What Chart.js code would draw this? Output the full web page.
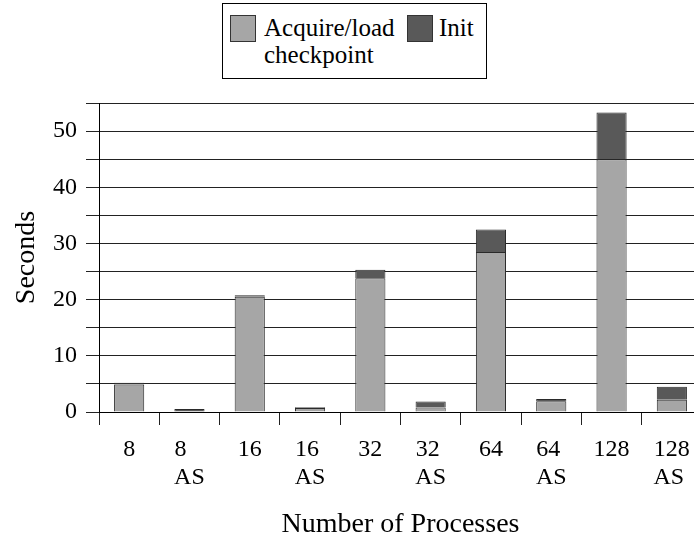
<!DOCTYPE html>
<html>
<head>
<meta charset="utf-8">
<script src="https://cdn.jsdelivr.net/npm/chart.js@4/dist/chart.umd.min.js"></script>
<style>
  html, body { margin: 0; padding: 0; background: #fff; overflow: hidden; }
  #wrap { position: relative; width: 694px; height: 541px; overflow: hidden; }
  #legend {
    position: absolute; left: 222px; top: 3px; width: 263px; height: 74px;
    border: 1px solid #000; background: #fff;
    font-family: "Liberation Serif", "Times New Roman", serif; font-size: 25px; line-height: 27px;
  }
  #legend .sw { position: absolute; width: 24px; height: 25px; border: 1px solid #333; }
  #legend .txt { position: absolute; white-space: nowrap; color: #000; }
</style>
</head>
<body>
<div id="wrap">
  <canvas id="chart" width="702" height="541"></canvas>
  <div id="legend">
    <div class="sw" style="left:7px; top:11px; background:#a6a6a6;"></div>
    <div class="txt" style="left:41px; top:10px;">Acquire/load<br>checkpoint</div>
    <div class="sw" style="left:184px; top:11px; background:#595959;"></div>
    <div class="txt" style="left:216px; top:10px;">Init</div>
  </div>
</div>
<script>
// Categories (number of processes, AS = variant); lines padded so they sit left-aligned
const categories = [
  ['8', ''], ['8   ', 'AS'], ['16', ''], ['16 ', 'AS'], ['32', ''],
  ['32 ', 'AS'], ['64', ''], ['64 ', 'AS'], ['128', ''], ['128', 'AS ']
];

// Seconds per phase
const acquireLoad = [4.9, 0.1, 20.5, 0.7, 23.8, 0.8, 28.5, 1.9, 45.0, 2.2];
const initTime    = [0.3, 0.45, 0.3, 0.15, 1.5, 1.05, 4.0, 0.4, 8.3, 2.3];

const yTicks = [0, 10, 20, 30, 40, 50];

const serif = '"Liberation Serif", "Times New Roman", serif';

const ctx = document.getElementById('chart').getContext('2d');
new Chart(ctx, {
  type: 'bar',
  data: {
    labels: categories,
    datasets: [
      {
        label: 'Acquire/load checkpoint',
        data: acquireLoad,
        backgroundColor: '#a6a6a6',
        borderColor: '#2a2a2a',
        borderWidth: 1
      },
      {
        label: 'Init',
        data: initTime,
        backgroundColor: '#595959',
        borderColor: '#2a2a2a',
        borderWidth: 1
      }
    ]
  },
  options: {
    responsive: false,
    animation: false,
    layout: { padding: { top: 103, left: 0, right: 0, bottom: 0 } },
    plugins: {
      legend: { display: false },
      tooltip: { enabled: false }
    },
    datasets: {
      bar: { categoryPercentage: 1.0, barPercentage: 0.5 }
    },
    scales: {
      x: {
        stacked: true,
        afterFit: (scale) => { scale.height = 129; },
        grid: {
          offset: true,
          drawOnChartArea: false,
          drawTicks: true,
          tickLength: 13,
          color: '#222',
          lineWidth: 1
        },
        border: { display: true, color: '#000', width: 1 },
        ticks: {
          color: '#000',
          font: { family: serif, size: 24, lineHeight: 1.15 },
          padding: 11,
          maxRotation: 0,
          autoSkip: false
        },
        title: {
          display: true,
          text: 'Number of Processes',
          color: '#000',
          font: { family: serif, size: 28 },
          padding: { top: 0, bottom: 0 }
        }
      },
      y: {
        stacked: true,
        min: 0,
        max: 55,
        afterFit: (scale) => { scale.width = 99; },
        grid: {
          color: '#222',
          lineWidth: 1,
          tickLength: 13
        },
        border: { display: true, color: '#000', width: 1 },
        ticks: {
          stepSize: 5,
          autoSkip: false,
          color: '#000',
          font: { family: serif, size: 24 },
          padding: 9,
          callback: (v) => yTicks.includes(v) ? v : ''
        },
        title: {
          display: true,
          text: 'Seconds',
          color: '#000',
          font: { family: serif, size: 28 },
          padding: { top: 10, bottom: 0 }
        }
      }
    }
  }
});
</script>
</body>
</html>
